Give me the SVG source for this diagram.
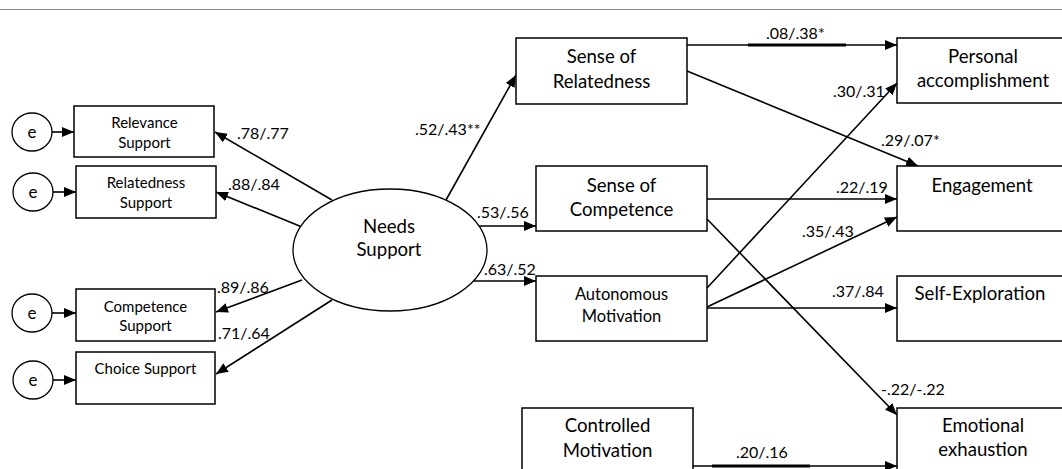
<svg xmlns="http://www.w3.org/2000/svg" width="1062" height="469" viewBox="0 0 1062 469">
<style>
.box{fill:#fff;stroke:#000;stroke-width:1.5}
.el{fill:#fff;stroke:#000;stroke-width:1.3}
.t{font-family:Lato,"Liberation Sans",sans-serif;fill:#000;text-anchor:middle}
.big{font-size:18.6px}
.mid{font-size:16.5px}
.sm{font-size:15px}
.e{font-size:17px}
.c{font-family:Lato,"Liberation Sans",sans-serif;font-size:16px;fill:#000}
.ln{stroke:#000;stroke-width:1.6;fill:none}
.thick{stroke:#000;stroke-width:3.2;fill:none}
</style>
<defs>
<marker id="ah" viewBox="0 0 12 10" refX="12" refY="5" markerWidth="12" markerHeight="10" markerUnits="userSpaceOnUse" orient="auto">
<path d="M0,0 L12,5 L0,10 z" fill="#000"/>
</marker>
</defs>
<rect width="1062" height="469" fill="#fff"/>
<line x1="0" y1="9.5" x2="1062" y2="9.5" stroke="#888" stroke-width="1.2"/>

<g id="connectors">
<line class="ln" x1="52" y1="132" x2="74" y2="132" marker-end="url(#ah)"/>
<line class="ln" x1="53" y1="192" x2="76" y2="192" marker-end="url(#ah)"/>
<line class="ln" x1="52" y1="313" x2="76" y2="313" marker-end="url(#ah)"/>
<line class="ln" x1="53" y1="380" x2="76" y2="380" marker-end="url(#ah)"/>
<line class="ln" x1="332" y1="200" x2="215" y2="132" marker-end="url(#ah)"/>
<line class="ln" x1="302" y1="227" x2="216" y2="192" marker-end="url(#ah)"/>
<line class="ln" x1="302" y1="280" x2="216" y2="312" marker-end="url(#ah)"/>
<line class="ln" x1="332" y1="300" x2="216" y2="374" marker-end="url(#ah)"/>
<line class="ln" x1="446" y1="200" x2="516" y2="75" marker-end="url(#ah)"/>
<line class="ln" x1="478" y1="226" x2="536" y2="226" marker-end="url(#ah)"/>
<line class="ln" x1="473" y1="281" x2="536" y2="281" marker-end="url(#ah)"/>
<line class="ln" x1="687" y1="45" x2="897" y2="45" marker-end="url(#ah)"/>
<line class="thick" x1="748" y1="45" x2="846" y2="45"/>
<line class="ln" x1="687" y1="71" x2="918" y2="166" marker-end="url(#ah)"/>
<line class="ln" x1="707" y1="199" x2="897" y2="199" marker-end="url(#ah)"/>
<line class="ln" x1="707" y1="219" x2="897" y2="415" marker-end="url(#ah)"/>
<line class="ln" x1="707" y1="288" x2="897" y2="83" marker-end="url(#ah)"/>
<line class="ln" x1="707" y1="307" x2="897" y2="217" marker-end="url(#ah)"/>
<line class="ln" x1="707" y1="308" x2="897" y2="308" marker-end="url(#ah)"/>
<line class="ln" x1="693" y1="466" x2="897" y2="466" marker-end="url(#ah)"/>
<line class="thick" x1="712" y1="466" x2="810" y2="466"/>
<text class="c" x="237" y="139">.78/.77</text>
<text class="c" x="228" y="190">.88/.84</text>
<text class="c" x="217" y="293">.89/.86</text>
<text class="c" x="218" y="339">.71/.64</text>
<text class="c" x="415" y="135">.52/.43**</text>
<text class="c" x="477" y="218">.53/.56</text>
<text class="c" x="484" y="275">.63/.52</text>
<text class="c" x="766" y="39">.08/.38*</text>
<text class="c" x="881" y="146">.29/.07*</text>
<text class="c" x="836" y="193">.22/.19</text>
<text class="c" x="833" y="97">.30/.31</text>
<text class="c" x="802" y="237">.35/.43</text>
<text class="c" x="832" y="297">.37/.84</text>
<text class="c" x="881" y="395">-.22/-.22</text>
<text class="c" x="736" y="458">.20/.16</text>
</g>

<g id="e1"><ellipse class="el" cx="32" cy="132" rx="20" ry="19"/><text class="t e" x="32" y="137.5">e</text></g>
<g id="e2"><ellipse class="el" cx="33" cy="192" rx="20" ry="19"/><text class="t e" x="33" y="197.5">e</text></g>
<g id="e3"><ellipse class="el" cx="32" cy="313" rx="20" ry="19"/><text class="t e" x="32" y="318.5">e</text></g>
<g id="e4"><ellipse class="el" cx="33" cy="380" rx="20" ry="19"/><text class="t e" x="33" y="385.5">e</text></g>

<g id="relevance-support"><rect class="box" x="74" y="106" width="140" height="51"/><text class="t sm" x="144.5" y="128">Relevance</text><text class="t sm" x="144.5" y="148">Support</text></g>
<g id="relatedness-support"><rect class="box" x="76" y="166" width="140" height="52"/><text class="t sm" x="146" y="188">Relatedness</text><text class="t sm" x="146" y="208">Support</text></g>
<g id="competence-support"><rect class="box" x="76" y="289" width="139" height="52"/><text class="t sm" x="145.5" y="311.5">Competence</text><text class="t sm" x="145.5" y="331">Support</text></g>
<g id="choice-support"><rect class="box" x="76" y="352" width="139" height="52"/><text class="t sm" x="145.5" y="374">Choice Support</text></g>

<g id="needs-support"><ellipse class="el" cx="390" cy="250" rx="97" ry="61"/><text class="t big" x="389" y="233">Needs</text><text class="t big" x="389" y="256">Support</text></g>

<g id="sense-relatedness"><rect class="box" x="516" y="38" width="171" height="66"/><text class="t big" x="601.5" y="63">Sense of</text><text class="t big" x="601.5" y="88">Relatedness</text></g>
<g id="sense-competence"><rect class="box" x="536" y="166" width="171" height="65"/><text class="t big" x="621.5" y="191.5">Sense of</text><text class="t big" x="621.5" y="216">Competence</text></g>
<g id="autonomous"><rect class="box" x="536" y="276" width="171" height="65"/><text class="t mid" x="621.5" y="300">Autonomous</text><text class="t mid" x="621.5" y="321.5">Motivation</text></g>
<g id="controlled"><rect class="box" x="522" y="408" width="171" height="70"/><text class="t big" x="607.5" y="432">Controlled</text><text class="t big" x="607.5" y="456.5">Motivation</text></g>

<g id="personal"><rect class="box" x="897" y="38" width="166" height="65"/><text class="t big" x="983" y="63">Personal</text><text class="t big" x="983" y="87">accomplishment</text></g>
<g id="engagement"><rect class="box" x="897" y="166" width="166" height="65"/><text class="t big" x="982" y="192">Engagement</text></g>
<g id="self-exploration"><rect class="box" x="897" y="276" width="166" height="65"/><text class="t big" x="980" y="300">Self-Exploration</text></g>
<g id="emotional"><rect class="box" x="897" y="408" width="166" height="70"/><text class="t big" x="983" y="432">Emotional</text><text class="t big" x="983" y="456">exhaustion</text></g>
</svg>
